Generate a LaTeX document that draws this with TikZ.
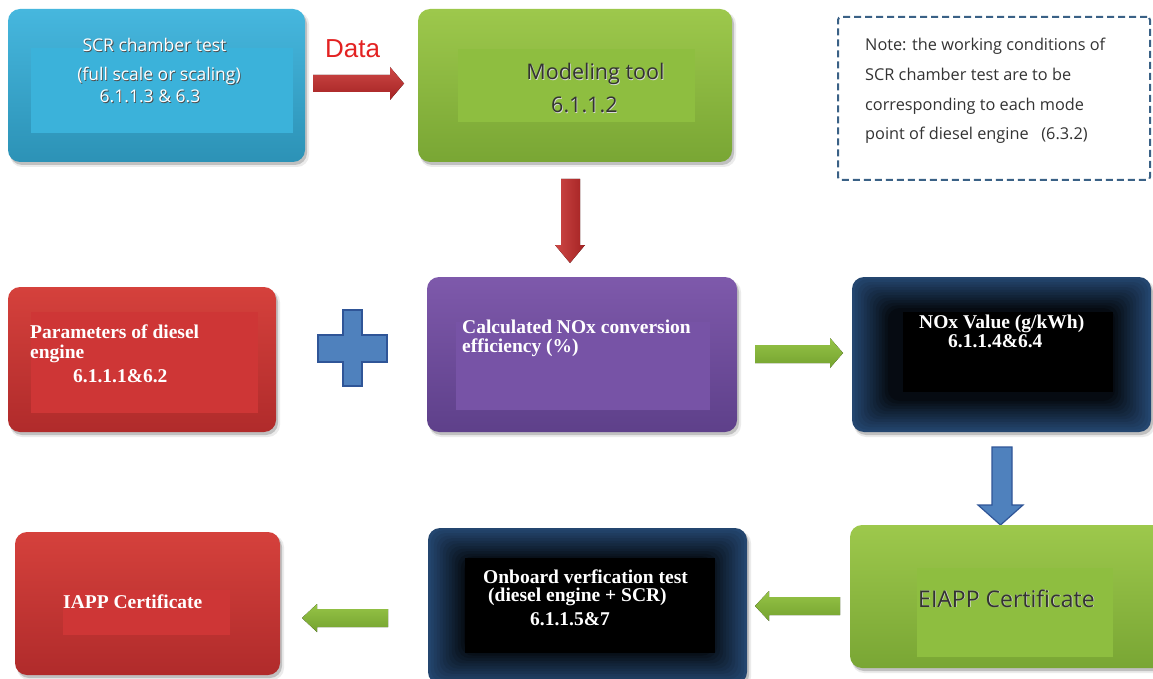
\documentclass[tikz,border=0pt]{standalone}
\usepackage{fontspec}
\setmainfont{Liberation Serif}
\newfontfamily\segoe{Open Sans}
\newfontfamily\arialf{Liberation Sans}
\usetikzlibrary{calc}
\definecolor{bluetop}{HTML}{46B7DE}
\definecolor{bluebot}{HTML}{2C92B6}
\definecolor{blueinner}{HTML}{3BB2DA}
\definecolor{greentop}{HTML}{9DC84C}
\definecolor{greenbot}{HTML}{79A634}
\definecolor{greeninner}{HTML}{8EBE40}
\definecolor{redtop}{HTML}{D5413C}
\definecolor{redbot}{HTML}{B02B2B}
\definecolor{redinner}{HTML}{CE3636}
\definecolor{purptop}{HTML}{7E59AB}
\definecolor{purpbot}{HTML}{5E408A}
\definecolor{purpinner}{HTML}{7753A6}
\definecolor{navy}{HTML}{24466F}
\definecolor{notecol}{HTML}{3A6186}
\definecolor{notetext}{HTML}{333333}
\definecolor{arrred}{HTML}{C83331}
\definecolor{arrreddk}{HTML}{A32222}
\definecolor{arrgreen}{HTML}{96C447}
\definecolor{arrgreendk}{HTML}{74A22F}
\definecolor{plusblue}{HTML}{4F81BD}
\definecolor{plusedge}{HTML}{2F5597}
\definecolor{datared}{HTML}{E32222}
\begin{document}
\begin{tikzpicture}[x=1pt,y=-1pt,
  box/.style={rounded corners=12, inner sep=0pt},
  shadowbox/.style={rounded corners=12, fill=black, opacity=0.18, inner sep=0pt},
  innerbox/.style={inner sep=0pt},
  segwhite/.style={font=\segoe\fontsize{17.5}{20}\selectfont, text=white, inner sep=0pt},
  segshadow/.style={font=\segoe\fontsize{17.5}{20}\selectfont, text=black!70, inner sep=0pt},
  segdark/.style={font=\segoe\fontsize{21.5}{24}\selectfont, text=black!80, inner sep=0pt},
  seglight/.style={font=\segoe\fontsize{21.5}{24}\selectfont, text=white!85!black, inner sep=0pt},
  segdarkb/.style={font=\segoe\fontsize{23}{26}\selectfont, text=black!80, inner sep=0pt},
  seglightb/.style={font=\segoe\fontsize{23}{26}\selectfont, text=white!85!black, inner sep=0pt},
  notestyle/.style={font=\segoe\fontsize{16.3}{18}\selectfont, text=notetext, inner sep=0pt, anchor=base west},
  serifw/.style={font=\bfseries\fontsize{19.5}{22}\selectfont, text=white, inner sep=0pt, anchor=base west},
  redarrow/.style={top color=arrred!90!white, bottom color=arrreddk, draw=none},
  redarrowv/.style={left color=arrred!90!white, right color=arrreddk, draw=none},
  greenarrow/.style={top color=arrgreen, bottom color=arrgreendk, draw=none},
  bluearrow/.style={fill=plusblue, draw=plusedge, line width=1.2pt}
]
\useasboundingbox (0,0) rectangle (1153,679);
\fill[white] (0,0) rectangle (1153,679);

% ---------- shadows ----------
\foreach \cx/\cy/\w/\h in {156.5/85.5/297/153, 575/85.5/314/153, 142/359.5/268/145, 582/354.5/310/155,
  1001.5/354.5/299/155, 1007.5/596.5/315/143, 587.5/606/319/156, 147.5/603.5/265/143}{
  \node[shadowbox, minimum width=\w, minimum height=\h] at (\cx+2,\cy+3) {};
  \node[shadowbox, minimum width=\w+2, minimum height=\h+2, opacity=0.08] at (\cx+3,\cy+4) {};
}

% ---------- SCR chamber test ----------
\node[box, top color=bluetop, bottom color=bluebot, minimum width=297, minimum height=153] (scr) at (156.5,85.5) {};
\node[innerbox, fill=blueinner, minimum width=262, minimum height=85] (scri) at (162,90.5) {};
\foreach \t/\cx/\by [count=\k] in {SCR chamber test/154.5/52, (full scale or scaling)/159/81, 6.1.1.3 \& 6.3/150/103}{
  \node[segshadow, anchor=base] (scrs\k) at (\cx+0.8,\by+0.8) {\t};
  \node[segwhite, anchor=base] (scrt\k) at (\cx,\by) {\t};
}

% ---------- Data arrow ----------
\node[font=\arialf\fontsize{26}{28}\selectfont, text=datared, inner sep=0pt, anchor=base] (data) at (352.5,58) {Data};
\coordinate (a1s) at (313,75);
\fill[redarrow] (a1s) -- (390,75) -- (390,67) -- (404,83.5) -- (390,100) -- (390,92) -- (313,92) -- cycle;

% ---------- Modeling tool ----------
\node[box, top color=greentop, bottom color=greenbot, minimum width=314, minimum height=153] (model) at (575,85.5) {};
\node[innerbox, fill=greeninner, minimum width=237, minimum height=73] (modeli) at (576.5,85.5) {};
\node[seglight, anchor=base] (mts) at (596.2,80.7) {Modeling tool};
\node[segdark, anchor=base] (mt) at (595.5,80) {Modeling tool};
\node[seglight, anchor=base west] (mns) at (551.7,113.7) {6.1.1.2};
\node[segdark, anchor=base west] (mn) at (551,113) {6.1.1.2};

% ---------- red down arrow ----------
\fill[redarrowv] (561,179) -- (580,179) -- (580,245) -- (585,245) -- (570,263) -- (555,245) -- (561,245) -- cycle;

% ---------- Note ----------
\node[draw=notecol, line width=2pt, dash pattern=on 7pt off 4pt, rounded corners=3, minimum width=312, minimum height=163, inner sep=0pt] (note) at (994,98.5) {};
\node[notestyle] (n1) at (865,51) {Note: the working conditions of};
\node[notestyle] (n2) at (865,81) {SCR chamber test are to be};
\node[notestyle] (n3) at (865,111) {corresponding to each mode};
\node[notestyle] (n4) at (865,140) {point of diesel engine\ \ \ (6.3.2)};

% ---------- Parameters ----------
\node[box, top color=redtop, bottom color=redbot, minimum width=268, minimum height=145] (param) at (142,359.5) {};
\node[innerbox, fill=redinner, minimum width=227, minimum height=101] (parami) at (144.5,362.5) {};
\node[serifw] (p1) at (30,338) {Parameters of diesel};
\node[serifw] (p2) at (30,358) {engine};
\node[serifw] (p3) at (73,382) {6.1.1.1\&6.2};

% ---------- plus ----------
\fill[bluearrow] (343,310) -- (362,310) -- (362,335) -- (387,335) -- (387,362) -- (362,362) -- (362,386) -- (343,386) -- (343,362) -- (318,362) -- (318,335) -- (343,335) -- cycle;

% ---------- Calculated ----------
\node[box, top color=purptop, bottom color=purpbot, minimum width=310, minimum height=155] (calc) at (582,354.5) {};
\node[innerbox, fill=purpinner, minimum width=254, minimum height=88] (calci) at (583,366) {};
\node[serifw] (c1) at (462,333) {Calculated NOx conversion};
\node[serifw] (c2) at (462,352) {efficiency (\%)};

% ---------- green right arrow ----------
\fill[greenarrow] (755,345) -- (830,345) -- (830,338) -- (843,353) -- (830,368) -- (830,363) -- (755,363) -- cycle;

% ---------- NOx value ----------
\node[box, fill=navy, minimum width=299, minimum height=155] (nox) at (1001.5,354.5) {};
\foreach \i in {1,...,12}{
  \pgfmathsetmacro{\pc}{100-7*\i}
  \fill[navy!\pc!black, rounded corners=12] ($(nox.north west)+(3*\i,2.6*\i)$) rectangle ($(nox.south east)+(-3*\i,-2.6*\i)$);
}
\node[innerbox, fill=black, minimum width=210, minimum height=80] (noxi) at (1008,352) {};
\node[serifw] (x1) at (919,328) {NOx Value (g/kWh)};
\node[serifw] (x2) at (948,347) {6.1.1.4\&6.4};

% ---------- blue down arrow ----------
\fill[bluearrow] (992,447) -- (1012,447) -- (1012,505) -- (1023,505) -- (1000.5,525) -- (978,505) -- (992,505) -- cycle;

% ---------- EIAPP ----------
\node[box, top color=greentop, bottom color=greenbot, minimum width=315, minimum height=143] (eiapp) at (1007.5,596.5) {};
\node[innerbox, fill=greeninner, minimum width=196, minimum height=89] (eiappi) at (1015,612.5) {};
\node[seglightb, anchor=base west] (ets) at (918.7,607.7) {EIAPP Certificate};
\node[segdarkb, anchor=base west] (et) at (918,607) {EIAPP Certificate};

% ---------- green left arrow 1 ----------
\fill[greenarrow] (840,597) -- (769,597) -- (769,591) -- (755,606) -- (769,621) -- (769,615) -- (840,615) -- cycle;

% ---------- Onboard ----------
\node[box, fill=navy, minimum width=319, minimum height=156] (onb) at (587.5,606) {};
\foreach \i in {1,...,12}{
  \pgfmathsetmacro{\pc}{100-7*\i}
  \fill[navy!\pc!black, rounded corners=12] ($(onb.north west)+(3*\i,2.6*\i)$) rectangle ($(onb.south east)+(-3*\i,-2.6*\i)$);
}
\node[innerbox, fill=black, minimum width=250, minimum height=95] (onbi) at (590,605.5) {};
\node[serifw] (o1) at (483,583) {Onboard verfication test};
\node[serifw] (o2) at (488,601) {(diesel engine + SCR)};
\node[serifw] (o3) at (530,625) {6.1.1.5\&7};

% ---------- green left arrow 2 ----------
\fill[greenarrow] (388,609) -- (317,609) -- (317,604) -- (302,618) -- (317,632) -- (317,627) -- (388,627) -- cycle;

% ---------- IAPP ----------
\node[box, top color=redtop, bottom color=redbot, minimum width=265, minimum height=143] (iapp) at (147.5,603.5) {};
\node[innerbox, fill=redinner, minimum width=167, minimum height=45] (iappi) at (146.5,612.5) {};
\node[serifw] (i1) at (63,608) {IAPP Certificate};
\end{tikzpicture}
\end{document}
